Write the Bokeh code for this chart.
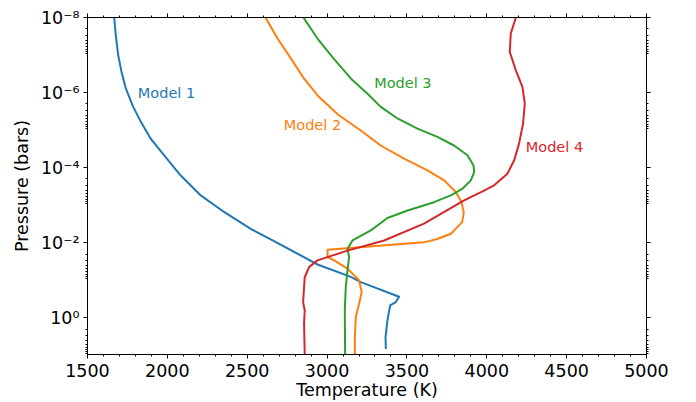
import numpy as np
from bokeh.plotting import figure
from bokeh.models import Range1d, LinearAxis, LogAxis, FixedTicker, CustomJSTickFormatter
from bokeh.core.properties import value
from bokeh.embed import file_html
from bokeh.resources import INLINE

# temperature (K) and log10 pressure (bars)
temp_1 = [1667, 1677, 1692, 1713, 1740, 1782, 1834, 1896, 1980, 2084, 2209, 2355, 2522,
          2668, 2835, 2940, 3149, 3211, 3451, 3430, 3395, 3378, 3366, 3368]
logp_1 = [-8.0, -7.53, -7.0, -6.55, -6.11, -5.66, -5.22, -4.77, -4.33, -3.79, -3.26, -2.82, -2.37,
          -2.04, -1.66, -1.42, -1.09, -0.95, -0.56, -0.42, -0.33, 0.07, 0.52, 0.83]

temp_2 = [2614, 2690, 2773, 2856, 2950, 3070, 3211, 3336, 3482, 3629, 3733, 3806, 3842,
          3856, 3846, 3775, 3690, 3607, 3003, 3003, 3044, 3128, 3200, 3217, 3200, 3180,
          3174, 3174]
logp_2 = [-8.0, -7.44, -6.91, -6.37, -5.88, -5.41, -4.99, -4.59, -4.24, -3.93, -3.66, -3.35, -3.08,
          -2.8, -2.55, -2.24, -2.1, -2.01, -1.81, -1.62, -1.53, -1.31, -1.0, -0.68, -0.37, -0.02,
          0.52, 0.98]

temp_3 = [2852, 2940, 3040, 3150, 3253, 3336, 3441, 3566, 3691, 3795, 3879, 3917, 3921,
          3900, 3848, 3775, 3670, 3504, 3378, 3274, 3159, 3128, 3138, 3128, 3117, 3111, 3113]
logp_3 = [-8.0, -7.44, -6.91, -6.37, -5.97, -5.62, -5.31, -5.04, -4.82, -4.59, -4.33, -4.06, -3.88,
          -3.66, -3.44, -3.26, -3.08, -2.86, -2.66, -2.33, -2.06, -1.84, -1.62, -1.26, -0.82, -0.19,
          0.98]

temp_4 = [4182, 4150, 4144, 4182, 4223, 4238, 4227, 4202, 4171, 4129, 4046, 3983, 3858,
          3607, 3357, 3128, 2940, 2887, 2860, 2856, 2850, 2860, 2856, 2860]
logp_4 = [-8.0, -7.57, -7.08, -6.59, -6.15, -5.71, -5.17, -4.64, -4.19, -3.84, -3.53, -3.39, -3.13,
          -2.51, -2.06, -1.79, -1.53, -1.35, -1.08, -0.82, -0.42, -0.19, 0.16, 0.98]

names = ["Model 1", "Model 2", "Model 3", "Model 4"]
colors = ["#1f77b4", "#ff7f0e", "#2ca02c", "#d62728"]
label_x = [1815, 2729, 3295, 4244]
label_logp = [-5.98, -5.13, -6.25, -4.55]

x_ticks = [1500, 2000, 2500, 3000, 3500, 4000, 4500, 5000]
y_ticks = [1e-8, 1e-6, 1e-4, 1e-2, 1e0]
y_tick_labels = ["10⁻⁸", "10⁻⁶", "10⁻⁴", "10⁻²", "10⁰"]

x_minor = list(range(1500, 5001, 100))
y_minor = [k * t for t in y_ticks for k in range(2, 10)]

p = figure(width=696, height=402,
           x_range=Range1d(1500, 5000), y_range=Range1d(9.5, 1e-8),
           y_axis_type="log", output_backend="svg", toolbar_location=None,
           min_border_left=87, min_border_right=50, min_border_top=17, min_border_bottom=48)
p.grid.visible = False
p.outline_line_color = "black"
p.background_fill_color = "white"

series = [(temp_1, logp_1), (temp_2, logp_2), (temp_3, logp_3), (temp_4, logp_4)]
for (t, lp), c in zip(series, colors):
    p.line(t, 10 ** np.array(lp), line_color=c, line_width=2, line_join="round")

p.text(x=label_x, y=10 ** np.array(label_logp), text=names, text_color=colors,
       text_font=value("DejaVu Sans"), text_font_size="14.5px",
       text_baseline="middle", text_align="left")

x_ticker = FixedTicker(ticks=x_ticks, minor_ticks=x_minor)
y_ticker = FixedTicker(ticks=y_ticks, minor_ticks=y_minor)
y_fmt = CustomJSTickFormatter(args=dict(major=y_ticks, names=y_tick_labels), code="""
    for (let i = 0; i < major.length; i++) {
        if (Math.abs(Math.log10(tick) - Math.log10(major[i])) < 0.01) return names[i];
    }
    return "";
""")
blank = CustomJSTickFormatter(code='return "";')


def style(ax):
    ax.axis_line_color = "black"
    ax.major_tick_line_color = "black"
    ax.minor_tick_line_color = "black"
    ax.major_tick_in = 0
    ax.major_tick_out = 4
    ax.minor_tick_in = 0
    ax.minor_tick_out = 2
    ax.major_label_text_font = "DejaVu Sans"
    ax.major_label_text_font_size = "17.5px"
    ax.major_label_text_color = "black"
    ax.major_label_standoff = 5
    ax.axis_label_text_font = "DejaVu Sans"
    ax.axis_label_text_font_style = "normal"
    ax.axis_label_text_font_size = "17.5px"
    ax.axis_label_text_color = "black"
    ax.axis_label_standoff = 0


xa = p.xaxis[0]
xa.ticker = x_ticker
xa.axis_label = "Temperature (K)"
style(xa)

ya = p.yaxis[0]
ya.ticker = y_ticker
ya.formatter = y_fmt
ya.axis_label = "Pressure (bars)"
style(ya)
ya.major_label_standoff = 4
ya.axis_label_standoff = 6

top = LinearAxis(ticker=x_ticker, formatter=blank)
style(top)
top.major_label_standoff = 0
p.add_layout(top, "above")

right = LogAxis(ticker=y_ticker, formatter=blank)
style(right)
right.major_label_standoff = 0
p.add_layout(right, "right")

open("out.html", "w").write(file_html(p, INLINE))
